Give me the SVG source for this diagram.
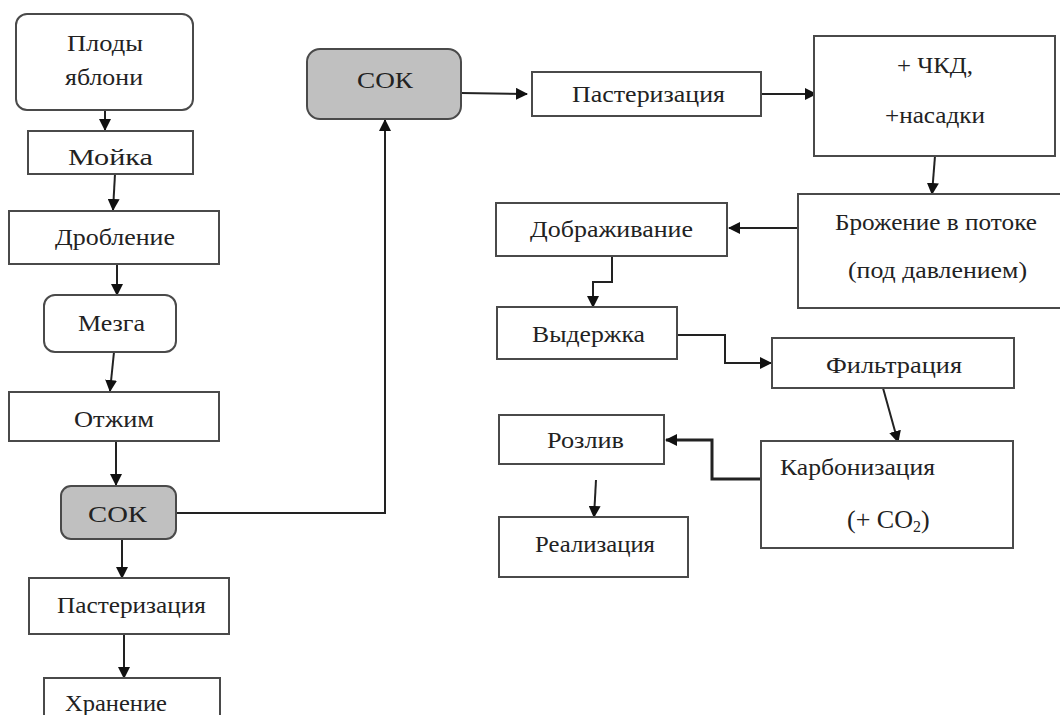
<svg xmlns="http://www.w3.org/2000/svg" width="1060" height="715" viewBox="0 0 1060 715">
<style>
.box{fill:#fff;stroke:#4a4a4a;stroke-width:2}
.gray{fill:#c0c0c0;stroke:#4a4a4a;stroke-width:2}
.t{font-family:"Liberation Serif","DejaVu Serif","Times New Roman",serif;font-size:23px;fill:#222;text-anchor:middle}
.c{fill:none;stroke:#222;stroke-width:2}
</style>
<defs>
<marker id="ah" markerUnits="userSpaceOnUse" markerWidth="12" markerHeight="12" refX="11" refY="6" orient="auto">
<path d="M0,0 L12,6 L0,12 z" fill="#111"/>
</marker>
</defs>
<rect width="1060" height="715" fill="#fff"/>

<g id="connectors">
<line class="c" x1="105" y1="110" x2="105" y2="130" marker-end="url(#ah)"/>
<line class="c" x1="115" y1="174" x2="113" y2="210" marker-end="url(#ah)"/>
<line class="c" x1="117" y1="264" x2="117" y2="295" marker-end="url(#ah)"/>
<line class="c" x1="114" y1="352" x2="110" y2="391" marker-end="url(#ah)"/>
<line class="c" x1="116" y1="441" x2="116" y2="485" marker-end="url(#ah)"/>
<line class="c" x1="122" y1="539" x2="122" y2="578" marker-end="url(#ah)"/>
<line class="c" x1="124" y1="634" x2="124" y2="678" marker-end="url(#ah)"/>
<polyline class="c" points="176,513 385,513 385,120" marker-end="url(#ah)"/>
<line class="c" x1="461" y1="93" x2="527" y2="94" marker-end="url(#ah)"/>
<line class="c" x1="757" y1="94" x2="816" y2="94" marker-end="url(#ah)"/>
<line class="c" x1="935" y1="156" x2="932" y2="194" marker-end="url(#ah)"/>
<line class="c" x1="798" y1="228" x2="729" y2="228" marker-end="url(#ah)"/>
<polyline class="c" points="612,256 612,282 593,282 593,307" marker-end="url(#ah)"/>
<polyline class="c" points="677,335 725,335 725,363 771,363" marker-end="url(#ah)"/>
<line class="c" x1="883" y1="388" x2="898" y2="442" marker-end="url(#ah)"/>
<polyline class="c" style="stroke-width:3" points="760,479 712,479 712,440 666,440" marker-end="url(#ah)"/>
<line class="c" x1="596" y1="480" x2="594" y2="517" marker-end="url(#ah)"/>
</g>

<g id="plody"><rect class="box" x="16" y="14" width="177" height="96" rx="11"/><text class="t" x="105" y="51" textLength="76" lengthAdjust="spacingAndGlyphs">Плоды</text><text class="t" x="104" y="85" textLength="78" lengthAdjust="spacingAndGlyphs">яблони</text></g>
<g id="moika"><rect class="box" x="28" y="131" width="165" height="43"/><text class="t" x="110.5" y="165" textLength="85" lengthAdjust="spacingAndGlyphs">Мойка</text></g>
<g id="droblenie"><rect class="box" x="9" y="211" width="210" height="53"/><text class="t" x="115" y="245" textLength="120" lengthAdjust="spacingAndGlyphs">Дробление</text></g>
<g id="mezga"><rect class="box" x="44" y="295" width="132" height="57" rx="11"/><text class="t" x="111.5" y="331" textLength="67" lengthAdjust="spacingAndGlyphs">Мезга</text></g>
<g id="otzhim"><rect class="box" x="9" y="392" width="210" height="49"/><text class="t" x="114" y="427" textLength="80" lengthAdjust="spacingAndGlyphs">Отжим</text></g>
<g id="sok1"><rect class="gray" x="61" y="486" width="115" height="53" rx="10"/><text class="t" x="117.5" y="522" textLength="59" lengthAdjust="spacingAndGlyphs">СОК</text></g>
<g id="pasterizacia1"><rect class="box" x="29" y="578" width="200" height="56"/><text class="t" x="131.5" y="613" textLength="149" lengthAdjust="spacingAndGlyphs">Пастеризация</text></g>
<g id="hranenie"><rect class="box" x="44" y="678" width="176" height="60"/><text class="t" x="116" y="711" textLength="102" lengthAdjust="spacingAndGlyphs">Хранение</text></g>

<g id="sok2"><rect class="gray" x="307" y="49" width="154" height="70" rx="13"/><text class="t" x="385" y="88" textLength="56" lengthAdjust="spacingAndGlyphs">СОК</text></g>
<g id="pasterizacia2"><rect class="box" x="532" y="72" width="229" height="44"/><text class="t" x="648.5" y="102" textLength="153" lengthAdjust="spacingAndGlyphs">Пастеризация</text></g>
<g id="chkd"><rect class="box" x="814" y="36" width="241" height="120"/><text class="t" x="935" y="73" textLength="76" lengthAdjust="spacingAndGlyphs">+ ЧКД,</text><text class="t" x="935" y="123" textLength="100" lengthAdjust="spacingAndGlyphs">+насадки</text></g>
<g id="brozhenie"><rect class="box" x="798" y="194" width="280" height="114"/><text class="t" x="936" y="230" textLength="202" lengthAdjust="spacingAndGlyphs">Брожение в потоке</text><text class="t" x="937.5" y="278" textLength="179" lengthAdjust="spacingAndGlyphs">(под давлением)</text></g>
<g id="dobrazhivanie"><rect class="box" x="496" y="203" width="231" height="53"/><text class="t" x="611.5" y="237" textLength="163" lengthAdjust="spacingAndGlyphs">Дображивание</text></g>
<g id="vyderzhka"><rect class="box" x="497" y="307" width="180" height="52"/><text class="t" x="588.5" y="342" textLength="113" lengthAdjust="spacingAndGlyphs">Выдержка</text></g>
<g id="filtracia"><rect class="box" x="772" y="338" width="242" height="50"/><text class="t" x="894" y="373" textLength="136" lengthAdjust="spacingAndGlyphs">Фильтрация</text></g>
<g id="karbonizacia"><rect class="box" x="761" y="441" width="252" height="107"/><text class="t" x="780" y="475" style="text-anchor:start" textLength="155" lengthAdjust="spacingAndGlyphs">Карбонизация</text><text class="t" x="847" y="528" style="text-anchor:start;font-size:26px">(+ CO<tspan font-size="16" dy="4">2</tspan><tspan dy="-4">)</tspan></text></g>
<g id="rozliv"><rect class="box" x="499" y="415" width="165" height="49"/><text class="t" x="585.5" y="448" textLength="77" lengthAdjust="spacingAndGlyphs">Розлив</text></g>
<g id="realizacia"><rect class="box" x="499" y="517" width="189" height="60"/><text class="t" x="595" y="552" textLength="120" lengthAdjust="spacingAndGlyphs">Реализация</text></g>
</svg>
